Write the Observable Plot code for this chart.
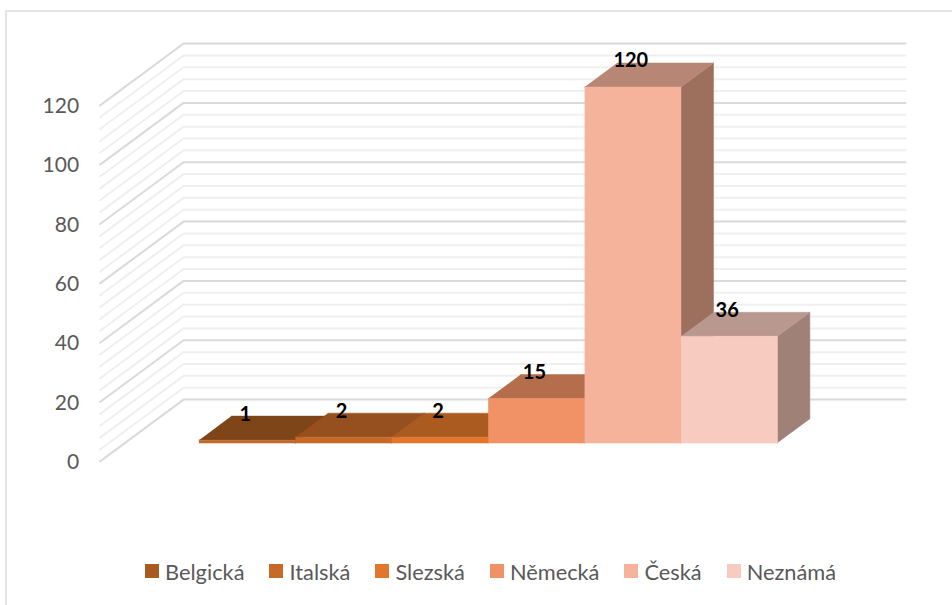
<!DOCTYPE html>
<html lang="cs">
<head>
<meta charset="utf-8">
<script src="https://cdn.jsdelivr.net/npm/d3@7"></script>
<script src="https://cdn.jsdelivr.net/npm/@observablehq/plot@0.6"></script>
<style>
  html, body { margin: 0; padding: 0; background: #fff; overflow: hidden; }
  #page { position: relative; width: 952px; height: 605px; font-family: Lato, "Open Sans", sans-serif; }
  #frame { position: absolute; left: 5px; top: 10px; width: 947px; height: 595px; box-sizing: border-box;
           border-left: 2px solid #e4e4e4; border-top: 2px solid #e4e4e4; }
  #chart { position: absolute; left: 0; top: 0; }
  #chart svg { display: block; background: transparent; }
  #legend { position: absolute; left: 145px; top: 556px; height: 30px; display: flex; align-items: center;
            color: #595959; font-size: 21.8px; white-space: nowrap; }
  .item { display: flex; align-items: center; margin-right: 25px; }
  .sw { width: 14px; height: 14px; margin-right: 6px; flex: none; }
</style>
</head>
<body>
<div id="page">
  <div id="frame"></div>
  <div id="chart"></div>
  <div id="legend"></div>
</div>
<script>
// Data
const categories = ["Belgická", "Italská", "Slezská", "Německá", "Česká", "Neznámá"];
const values = [1, 2, 2, 15, 120, 36];
const colors = ["#a85a20", "#c76a28", "#e2762c", "#f19266", "#f4b39a", "#f7cbbf"];
const frontColors = ["#c06a2c", "#c76a28", "#e2762c", "#f19266", "#f4b39a", "#f7cbbf"];
const topColors = ["#7e4518", "#96501f", "#ab5a20", "#b56e4c", "#b78674", "#b99890"];
const sideColors = ["#6d3c15", "#81461a", "#93501d", "#9d5f42", "#9c705d", "#a08178"];
const axisTicks = [0, 20, 40, 60, 80, 100, 120];
const gridStep = 4;

// Oblique 3D projection into the scales' data space.
// depth 0 is the bars' front plane, depth 1 their back plane.
const depthCat = 0.337;    // category units per unit of depth
const depthVal = 8.1;      // value units per unit of depth
const wallBack = 1.81;     // back wall depth
const wallFront = -0.76;   // front end of side wall
const floorLeft = -0.77;   // left wall position (category units)
const floorRight = 6.72;   // right end of back wall (category units)
const project = (cat, val, depth) => ({x: cat + depth * depthCat, y: val + depth * depthVal});

// Walls: gridlines every gridStep, heavier at axis ticks
const gridValues = d3.range(0, 120 + gridStep, gridStep);
const gridRows = gridValues.flatMap(v => [
  {v, ...project(floorLeft, v, wallFront)},
  {v, ...project(floorLeft, v, wallBack)},
  {v, ...project(floorRight, v, wallBack)}
]);
const minorRows = gridRows.filter(d => !axisTicks.includes(d.v));
const majorRows = gridRows.filter(d => axisTicks.includes(d.v));

// Bar faces, painted back-to-front, left-to-right
const faces = values.flatMap((v, i) => {
  const poly = (name, fill, pts) => pts.map(p => ({face: `${i}-${name}`, fill, ...project(...p)}));
  return [
    ...poly("side", sideColors[i], [[i + 1, 0, 0], [i + 1, v, 0], [i + 1, v, 1], [i + 1, 0, 1]]),
    ...poly("top", topColors[i], [[i, v, 0], [i + 1, v, 0], [i + 1, v, 1], [i, v, 1]]),
    ...poly("front", frontColors[i], [[i, 0, 0], [i + 1, 0, 0], [i + 1, v, 0], [i, v, 0]])
  ];
});

// Labels sit above the bar's centre, level with the back edge of its top face
const labels = values.map((v, i) => ({v, x: i + 0.5, y: project(i, v, 1).y}));
const tickRows = axisTicks.map(v => ({v, ...project(floorLeft, v, wallFront)}));

const W = 952, H = 540, catPx = 96.4, valPx = 2.967, x0 = 198.5, y0 = 442.6;

const plot = Plot.plot({
  width: W, height: H,
  margin: 0, marginTop: 0, marginRight: 0, marginBottom: 0, marginLeft: 0,
  style: {background: "transparent", fontFamily: "Lato, 'Open Sans', sans-serif"},
  x: {type: "linear", domain: [-x0 / catPx, (W - x0) / catPx], range: [0, W], axis: null},
  y: {type: "linear", domain: [(y0 - H) / valPx, y0 / valPx], range: [H, 0], axis: null},
  color: {type: "identity"},
  marks: [
    Plot.line(minorRows, {x: "x", y: "y", z: "v", stroke: "#efefef", strokeWidth: 2}),
    Plot.line(majorRows, {x: "x", y: "y", z: "v", stroke: "#dadada", strokeWidth: 2}),
    Plot.line(faces, {x: "x", y: "y", z: "face", fill: "fill", stroke: "fill", strokeWidth: 0.5}),
    Plot.text(labels, {x: "x", y: "y", text: d => String(d.v), fontSize: 20, fontWeight: 700,
      fill: "#000", dx: -2, dy: -2, lineAnchor: "middle"}),
    Plot.text(tickRows, {x: "x", y: "y", text: d => String(d.v), fontSize: 21, fill: "#595959",
      textAnchor: "end", dx: -21, dy: 1, lineAnchor: "middle"})
  ]
});
document.getElementById("chart").append(plot);

const legend = document.getElementById("legend");
categories.forEach((c, i) => {
  const item = document.createElement("div");
  item.className = "item";
  const sw = document.createElement("span");
  sw.className = "sw";
  sw.style.background = colors[i];
  const t = document.createElement("span");
  t.textContent = c;
  item.append(sw, t);
  legend.append(item);
});
</script>
</body>
</html>
